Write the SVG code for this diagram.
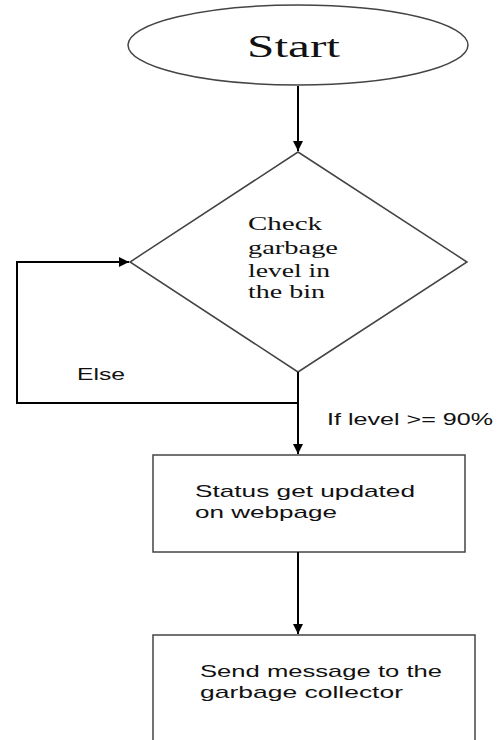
<svg xmlns="http://www.w3.org/2000/svg" width="503" height="740" viewBox="0 0 503 740">
<style>
.shape{fill:#fff;stroke:#444;stroke-width:1.5}
.conn{fill:none;stroke:#000;stroke-width:2}
.serif{font-family:"Liberation Serif","Times New Roman",serif;fill:#111}
.sans{font-family:"Liberation Sans",Arial,sans-serif;fill:#111}
</style>
<defs>
<marker id="arr" viewBox="0 0 10 10" refX="10" refY="5" markerWidth="5" markerHeight="5" orient="auto" markerUnits="strokeWidth">
<path d="M0,0 L10,5 L0,10 z" fill="#000"/>
</marker>
</defs>
<rect width="503" height="740" fill="#fff"/>
<g id="start">
<ellipse class="shape" cx="298" cy="45" rx="170" ry="40"/>
<text class="serif" x="247" y="57" font-size="31" textLength="93" lengthAdjust="spacingAndGlyphs">Start</text>
</g>
<g id="check">
<polygon class="shape" points="298,152 467,262 298,372 130,262"/>
<text class="serif" font-size="19" x="248" y="230" textLength="74" lengthAdjust="spacingAndGlyphs">Check</text>
<text class="serif" font-size="19" x="248" y="254" textLength="90" lengthAdjust="spacingAndGlyphs">garbage</text>
<text class="serif" font-size="19" x="248" y="277" textLength="82" lengthAdjust="spacingAndGlyphs">level in</text>
<text class="serif" font-size="19" x="248" y="298" textLength="77" lengthAdjust="spacingAndGlyphs">the bin</text>
</g>
<g id="status">
<rect class="shape" x="153" y="455" width="312" height="97"/>
<text class="sans" font-size="17" x="195" y="497" textLength="220" lengthAdjust="spacingAndGlyphs">Status get updated</text>
<text class="sans" font-size="17" x="195" y="518" textLength="142" lengthAdjust="spacingAndGlyphs">on webpage</text>
</g>
<g id="send">
<rect class="shape" x="153" y="635" width="322" height="120"/>
<text class="sans" font-size="17" x="200" y="677" textLength="242" lengthAdjust="spacingAndGlyphs">Send message to the</text>
<text class="sans" font-size="17" x="200" y="698" textLength="203" lengthAdjust="spacingAndGlyphs">garbage collector</text>
</g>
<g id="connectors">
<line class="conn" x1="298" y1="86" x2="298" y2="151" marker-end="url(#arr)"/>
<line class="conn" x1="298" y1="372" x2="298" y2="454" marker-end="url(#arr)"/>
<polyline class="conn" points="298,403 17,403 17,262 129,262" marker-end="url(#arr)"/>
<line class="conn" x1="298" y1="552" x2="298" y2="634" marker-end="url(#arr)"/>
<text class="sans" x="77" y="380" font-size="17" textLength="48" lengthAdjust="spacingAndGlyphs">Else</text>
<text class="sans" x="327" y="425" font-size="17" textLength="166" lengthAdjust="spacingAndGlyphs">If level &gt;= 90%</text>
</g>
</svg>
